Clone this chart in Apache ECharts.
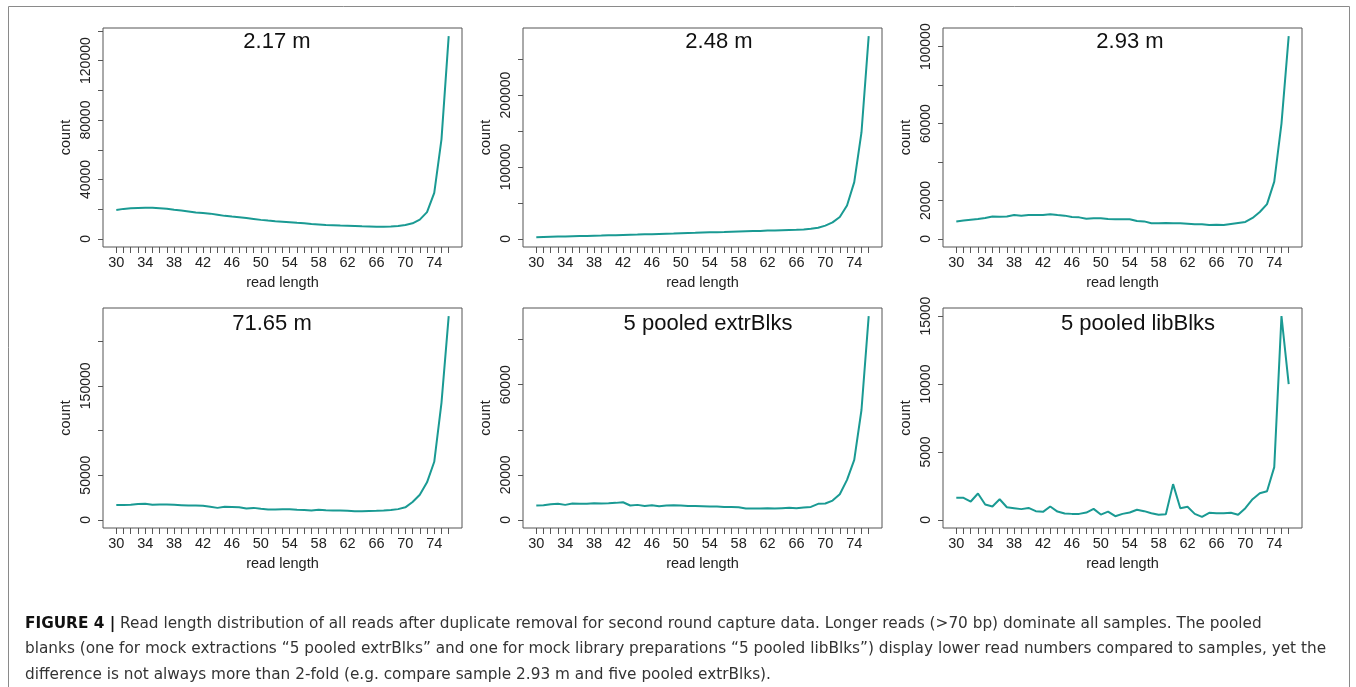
<!DOCTYPE html>
<html>
<head>
<meta charset="utf-8">
<script src="https://cdn.jsdelivr.net/npm/echarts@6/dist/echarts.min.js"></script>
<style>
  html, body { margin: 0; padding: 0; background: #fff; }
  #main { width: 1356px; height: 687px; }
</style>
</head>
<body>
<div id="main"></div>
<script>
// read lengths (bp)
var readLength = [30, 31, 32, 33, 34, 35, 36, 37, 38, 39, 40, 41, 42, 43, 44, 45, 46, 47, 48, 49,
  50, 51, 52, 53, 54, 55, 56, 57, 58, 59, 60, 61, 62, 63, 64, 65, 66, 67, 68, 69,
  70, 71, 72, 73, 74, 75, 76];
var xLabels = [30, 34, 38, 42, 46, 50, 54, 58, 62, 66, 70, 74];

// counts per read length, one array per sample
var m217 = [19500, 20200, 20600, 20800, 21000, 20900, 20600, 20300, 19600, 19100,
  18500, 17800, 17400, 17000, 16300, 15500, 15000, 14600, 14000, 13400,
  12800, 12300, 11900, 11600, 11200, 10800, 10500, 10000, 9700, 9400,
  9200, 9000, 8900, 8700, 8500, 8400, 8200, 8100, 8300, 8700,
  9300, 10500, 13000, 18000, 31000, 67000, 136500];
var m248 = [2300, 2600, 2900, 3200, 3400, 3700, 3900, 4100, 4400, 4600,
  4900, 5200, 5500, 5800, 6000, 6300, 6600, 6900, 7200, 7500,
  7900, 8200, 8500, 8900, 9200, 9400, 9600, 9900, 10200, 10500,
  10800, 11100, 11500, 11800, 12100, 12400, 12700, 13200, 14000, 15500,
  18500, 23000, 30500, 46500, 79000, 148000, 282000];
var m293 = [9100, 9600, 10000, 10300, 10900, 11700, 11500, 11700, 12400, 12100,
  12400, 12400, 12400, 12800, 12400, 12100, 11400, 11200, 10500, 10700,
  10700, 10300, 10200, 10200, 10200, 9300, 9100, 8100, 8100, 8300,
  8100, 8100, 7900, 7600, 7600, 7200, 7400, 7200, 7800, 8300,
  8800, 10900, 14000, 18100, 29800, 60000, 105500];
var m7165 = [16500, 16700, 16800, 17800, 17900, 16800, 17200, 17100, 16800, 16400,
  16000, 16000, 15700, 14600, 13400, 14600, 14500, 14000, 12700, 13400,
  12300, 11600, 11600, 11900, 11900, 11200, 11000, 10400, 11200, 10800,
  10600, 10500, 10100, 9700, 9700, 10000, 10100, 10400, 11000, 12000,
  14000, 20000, 28000, 42000, 65000, 131000, 228000];
var extrBlks = [6360, 6450, 6950, 7100, 6650, 7240, 7150, 7150, 7390, 7300,
  7390, 7540, 7830, 6360, 6650, 6200, 6500, 6060, 6360, 6500,
  6360, 6200, 6200, 6060, 5910, 5910, 5760, 5700, 5620, 5030,
  5030, 5030, 5170, 5030, 5170, 5320, 5170, 5470, 5760, 7100,
  7240, 8570, 11380, 17740, 26600, 48780, 90460];
var libBlks = [1620, 1620, 1350, 1940, 1130, 980, 1520, 930, 860, 790,
  880, 640, 590, 980, 610, 470, 440, 440, 540, 810,
  390, 610, 270, 440, 540, 740, 640, 490, 370, 420,
  2630, 860, 960, 440, 220, 520, 490, 490, 520, 370,
  860, 1520, 1960, 2110, 3880, 15000, 10000];

var panelNames = ['2.17 m', '2.48 m', '2.93 m', '71.65 m', '5 pooled extrBlks', '5 pooled libBlks'];
var panelData = [m217, m248, m293, m7165, extrBlks, libBlks];

// y axis ticks and the labels R kept
var yTicks = [
  [0, 20000, 40000, 60000, 80000, 100000, 120000, 140000],
  [0, 50000, 100000, 150000, 200000, 250000],
  [0, 20000, 40000, 60000, 80000, 100000],
  [0, 50000, 100000, 150000, 200000],
  [0, 20000, 40000, 60000, 80000],
  [0, 5000, 10000, 15000]
];
var yLabels = [
  [0, 40000, 80000, 120000],
  [0, 100000, 200000],
  [0, 20000, 60000, 100000],
  [0, 50000, 150000],
  [0, 20000, 60000],
  [0, 5000, 10000, 15000]
];

var FONT = 'Liberation Sans, Arial, Helvetica, sans-serif';
var CAPTION_FONT = 'DejaVu Sans, Liberation Sans, sans-serif';
var LINE = '#1a9a93';
var AXIS = '#555';

var lefts = [103, 523, 943];
var tops = [28, 308];
var titlePos = [[277, 42], [719, 42], [1130, 42], [272, 324], [708, 324], [1138, 324]];

var chart = echarts.init(document.getElementById('main'), null, { renderer: 'canvas' });

var grids = [], xAxes = [], yAxes = [], series = [], graphics = [];

// outer frame of the figure
graphics.push({
  type: 'rect',
  shape: { x: 8.5, y: 6.5, width: 1341, height: 700 },
  style: { fill: 'none', stroke: '#8a8a8a', lineWidth: 1 },
  silent: true
});

function plain(v) { return String(v); }

for (var i = 0; i < 6; i++) {
  var col = i % 3, row = Math.floor(i / 3);
  var ymax = Math.max.apply(null, panelData[i]);
  grids.push({
    left: lefts[col], top: tops[row], width: 359, height: row === 0 ? 219 : 220,
    show: true, borderColor: AXIS, borderWidth: 1, backgroundColor: 'transparent'
  });
  xAxes.push({
    type: 'value', gridIndex: i,
    min: 28.16, max: 77.84,
    name: 'read length', nameLocation: 'middle', nameGap: 28,
    nameTextStyle: { fontFamily: FONT, fontSize: 14.5, color: '#222' },
    axisLine: { show: false, onZero: false },
    axisTick: { show: true, length: 6, inside: false, customValues: readLength,
      lineStyle: { color: AXIS, width: 1 } },
    axisLabel: { customValues: xLabels, margin: 8, fontFamily: FONT, fontSize: 14.5, color: '#222',
      formatter: plain },
    splitLine: { show: false }
  });
  yAxes.push({
    type: 'value', gridIndex: i,
    min: -0.04 * ymax, max: 1.04 * ymax,
    name: 'count', nameLocation: 'middle', nameGap: 30, nameRotate: 90,
    nameTextStyle: { fontFamily: FONT, fontSize: 14.5, color: '#222' },
    axisLine: { show: false, onZero: false },
    axisTick: { show: true, length: 5, inside: false, customValues: yTicks[i],
      lineStyle: { color: AXIS, width: 1 } },
    axisLabel: { customValues: yLabels[i], rotate: 90, margin: 10,
      fontFamily: FONT, fontSize: 14, color: '#222', formatter: plain },
    splitLine: { show: false }
  });
  series.push({
    type: 'line', xAxisIndex: i, yAxisIndex: i,
    data: readLength.map(function (x, k) { return [x, panelData[i][k]]; }),
    showSymbol: false, symbol: 'none',
    lineStyle: { color: LINE, width: 2 },
    silent: true
  });
  graphics.push({
    type: 'text', x: titlePos[i][0], y: titlePos[i][1],
    style: { text: panelNames[i], fill: '#111', font: '22px ' + FONT,
      textAlign: 'center', textVerticalAlign: 'middle' },
    silent: true
  });
}

// caption under the panels
var captionLines = [
  '{b|FIGURE 4 |} Read length distribution of all reads after duplicate removal for second round capture data. Longer reads (>70 bp) dominate all samples. The pooled',
  'blanks (one for mock extractions \u201c5 pooled extrBlks\u201d and one for mock library preparations \u201c5 pooled libBlks\u201d) display lower read numbers compared to samples, yet the',
  'difference is not always more than 2-fold (e.g. compare sample 2.93 m and five pooled extrBlks).'
];
var captionY = [624, 649.5, 675];
for (var j = 0; j < captionLines.length; j++) {
  graphics.push({
    type: 'text', x: 25, y: captionY[j],
    style: {
      text: captionLines[j], fill: '#333',
      font: '15.3px ' + CAPTION_FONT, textAlign: 'left', textVerticalAlign: 'middle',
      rich: { b: { fontWeight: 'bold', fontSize: 15.3, fontFamily: CAPTION_FONT, fill: '#111' } }
    },
    silent: true
  });
}

chart.setOption({
  animation: false,
  backgroundColor: '#fff',
  grid: grids,
  xAxis: xAxes,
  yAxis: yAxes,
  series: series,
  graphic: graphics
});
</script>
</body>
</html>
